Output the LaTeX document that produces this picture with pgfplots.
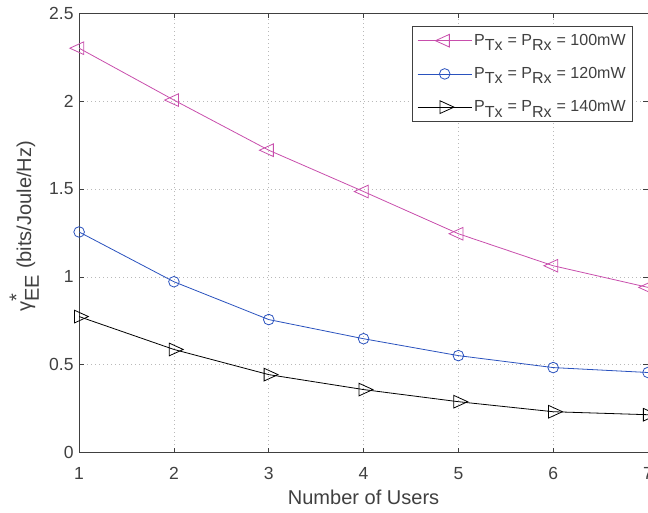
\documentclass[border=0pt]{standalone}
\usepackage{pgfplots}
\pgfplotsset{compat=1.18}
\usepackage{fontspec}
\setmainfont{Liberation Sans}
\definecolor{cmag}{RGB}{200,78,172}
\definecolor{cblue}{RGB}{42,82,190}
\definecolor{txt}{RGB}{64,64,64}
\begin{document}
\begin{tikzpicture}[trim axis right]
\begin{axis}[
  scale only axis, width=568pt, height=439pt,
  xmin=1, xmax=7, ymin=0, ymax=2.5,
  xtick={1,...,7}, ytick={0,0.5,1,1.5,2,2.5},
  yticklabels={0,0.5,1,1.5,2,2.5},
  tick pos=both, tick align=inside,
  major tick length=5pt,
  grid=major, grid style={gray!55, line width=0.6pt, dash pattern=on 1pt off 3pt},
  axis line style={txt, line width=0.6pt},
  tick style={txt, line width=0.6pt},
  every tick label/.append style={font=\fontsize{17.5}{19}\selectfont, text=txt},
  xticklabel style={yshift=-11pt},
  yticklabel style={xshift=-2pt},
  /pgf/number format/assume math mode=true,
  xlabel={Number of Users},
  ylabel={γ$^{\textrm{*}}_{\textrm{EE}}$ (bits/Joule/Hz)},
  label style={font=\fontsize{20}{23}\selectfont, text=txt},
  xlabel style={at={(axis description cs:0.5,0)}, anchor=base, yshift=-52pt},
  ylabel style={at={(axis description cs:-0.0704,0.515)}, anchor=south, inner sep=0pt},
  legend cell align=left,
  legend image code/.code={\draw[mark repeat=2,mark phase=2] plot coordinates {(0pt,0pt)(27pt,0pt)(54pt,0pt)};},
  legend style={at={(1,1)}, anchor=north east, xshift=-15pt, yshift=-13pt,
    font=\fontsize{16}{18}\selectfont, text=txt, draw=txt, line width=0.6pt,
    row sep=16.5pt, inner xsep=5pt, inner ysep=6pt, nodes={inner sep=2pt}},
]
\addplot[cmag, line width=0.8pt, mark=triangle, mark size=7.3pt, mark options={solid, rotate=90, yscale=1.27}]
 coordinates {(1,2.30)(2,2.005)(3,1.72)(4,1.485)(5,1.245)(6,1.063)(7,0.94)};
\addlegendentry{P$_{\textrm{Tx}}$ = P$_{\textrm{Rx}}$ = 100mW}
\addplot[cblue, line width=0.8pt, mark=o, mark size=5.3pt]
 coordinates {(1,1.255)(2,0.972)(3,0.757)(4,0.648)(5,0.552)(6,0.484)(7,0.456)};
\addlegendentry{P$_{\textrm{Tx}}$ = P$_{\textrm{Rx}}$ = 120mW}
\addplot[black, line width=0.8pt, mark=triangle, mark size=7.3pt, mark options={solid, rotate=-90, yscale=1.27}]
 coordinates {(1,0.774)(2,0.587)(3,0.444)(4,0.359)(5,0.29)(6,0.233)(7,0.216)};
\addlegendentry{P$_{\textrm{Tx}}$ = P$_{\textrm{Rx}}$ = 140mW}
\end{axis}
\path ([xshift=-79pt,yshift=13pt]current axis.north west);
\path ([xshift=-79pt,yshift=-60pt]current axis.south west);
\end{tikzpicture}
\end{document}
